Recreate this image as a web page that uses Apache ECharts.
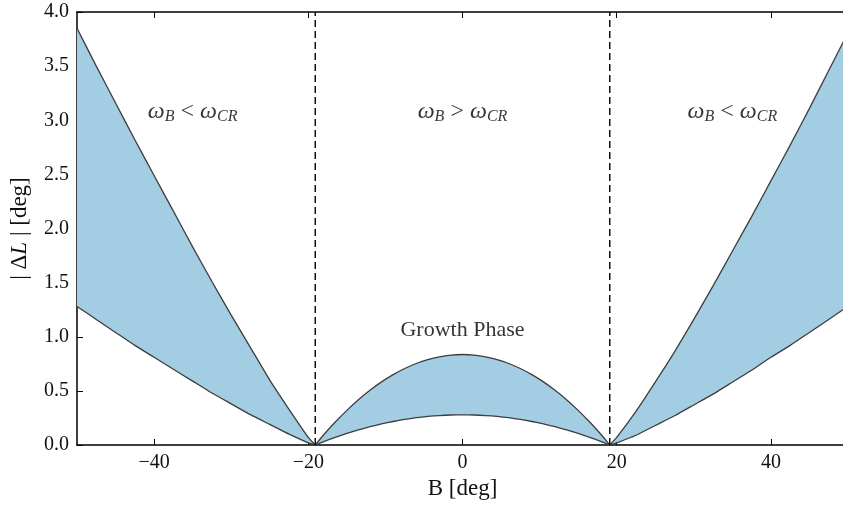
<!DOCTYPE html>
<html>
<head>
<meta charset="utf-8">
<script src="https://cdn.jsdelivr.net/npm/echarts@6/dist/echarts.min.js"></script>
<style>
html, body { margin: 0; padding: 0; background: #fff; }
#chart { width: 843px; height: 506px; }
</style>
</head>
<body>
<div id="chart"></div>
<script>
var serif = "'Liberation Serif', 'DejaVu Serif', serif";

// B < 0 : omega_B < omega_CR
var leftB     = [-50, -47.5, -45, -42.5, -40, -37.5, -35, -32.5, -30, -27.5, -25, -22.5, -20, -19.1];
var leftUpper = [3.85, 3.50, 3.16, 2.82, 2.49, 2.16, 1.83, 1.51, 1.20, 0.90, 0.60, 0.33, 0.07, 0];
var leftLower = [1.28, 1.16, 1.04, 0.92, 0.81, 0.70, 0.59, 0.48, 0.38, 0.28, 0.19, 0.10, 0.02, 0];

// growth phase : omega_B > omega_CR
var midB     = [-19.1, -18, -16.5, -15, -13.5, -12, -10.5, -9, -7.5, -6, -4.5, -3, -1.5, 0,
                1.5, 3, 4.5, 6, 7.5, 9, 10.5, 12, 13.5, 15, 16.5, 18, 19.1];
var midUpper = [0, 0.095, 0.212, 0.320, 0.419, 0.506, 0.583, 0.650, 0.707, 0.753, 0.789, 0.815, 0.831, 0.836,
                0.831, 0.815, 0.789, 0.753, 0.707, 0.650, 0.583, 0.506, 0.419, 0.320, 0.212, 0.095, 0];
var midLower = [0, 0.032, 0.071, 0.107, 0.140, 0.169, 0.195, 0.217, 0.236, 0.252, 0.264, 0.272, 0.277, 0.279,
                0.277, 0.272, 0.264, 0.252, 0.236, 0.217, 0.195, 0.169, 0.140, 0.107, 0.071, 0.032, 0];

// B > 0 : omega_B < omega_CR
var rightB     = [19.1, 20, 22.5, 25, 27.5, 30, 32.5, 35, 37.5, 40, 42.5, 45, 47.5, 50];
var rightUpper = [0, 0.07, 0.31, 0.58, 0.86, 1.16, 1.47, 1.79, 2.11, 2.44, 2.77, 3.11, 3.46, 3.81];
var rightLower = [0, 0.02, 0.09, 0.18, 0.27, 0.37, 0.47, 0.58, 0.69, 0.81, 0.92, 1.04, 1.16, 1.28];

var boundaries = [-19.1, 19.1];
var xTicks = [-40, -20, 0, 20, 40];

var notes = [
    { name: '{w|ω}{s|B}{o| < }{w|ω}{s|CR}', value: [-35, 3.08] },
    { name: '{w|ω}{s|B}{o| > }{w|ω}{s|CR}', value: [0, 3.08] },
    { name: '{w|ω}{s|B}{o| < }{w|ω}{s|CR}', value: [35, 3.08] },
    { name: '{g|Growth Phase}', value: [0, 1.06] }
];

var regions = [
    { b: leftB, lo: leftLower, hi: leftUpper },
    { b: midB, lo: midLower, hi: midUpper },
    { b: rightB, lo: rightLower, hi: rightUpper }
];

var edge = { color: '#3d3d3d', width: 1.3 };
var fill = '#a2cde3';

function pairs(xs, ys) {
    return xs.map(function (x, i) { return [x, ys[i]]; });
}

var series = [];

// shaded band between the two curves of each region
series.push({
    type: 'custom',
    silent: true,
    z: 2,
    data: regions.map(function (r, i) { return i; }),
    renderItem: function (params, api) {
        var r = regions[api.value(0)];
        var pts = [];
        r.b.forEach(function (x, i) { pts.push(api.coord([x, r.hi[i]])); });
        for (var i = r.b.length - 1; i >= 0; i--) pts.push(api.coord([r.b[i], r.lo[i]]));
        return {
            type: 'polygon',
            shape: { points: pts },
            style: { fill: fill, stroke: null }
        };
    }
});

regions.forEach(function (r) {
    [r.lo, r.hi].forEach(function (ys) {
        series.push({
            type: 'line', data: pairs(r.b, ys), symbol: 'none', smooth: 0.15,
            lineStyle: edge, silent: true, z: 3
        });
    });
});

boundaries.forEach(function (b) {
    series.push({
        type: 'line', data: [[b, 0], [b, 4]], symbol: 'none', silent: true, z: 4,
        lineStyle: { color: '#000', width: 1.4, type: [7, 4] }
    });
});

series.push({
    type: 'scatter', data: notes, symbolSize: 0, silent: true, z: 6,
    label: {
        show: true, position: 'inside', color: '#000',
        formatter: function (p) { return p.name; },
        rich: {
            w: { fontFamily: serif, fontStyle: 'italic', fontSize: 24, color: '#000', verticalAlign: 'middle' },
            s: { fontFamily: serif, fontStyle: 'italic', fontSize: 16, color: '#000', verticalAlign: 'middle', padding: [11, 0, 0, 0] },
            o: { fontFamily: serif, fontSize: 24, color: '#000', verticalAlign: 'middle' },
            g: { fontFamily: serif, fontSize: 22, color: '#000' }
        }
    }
});

function minus(v) { return v < 0 ? '\u2212' + (-v) : String(v); }

var option = {
    animation: false,
    backgroundColor: '#fff',
    grid: { left: 77, top: 12, width: 771, bottom: 61, outerBoundsMode: 'none', containLabel: false },
    xAxis: [
        {
            type: 'value', min: -50, max: 50, position: 'bottom',
            name: 'B [deg]', nameLocation: 'middle', nameGap: 32,
            nameTextStyle: { fontFamily: serif, fontSize: 23, color: '#111' },
            axisLine: { onZero: false, lineStyle: { color: '#000', width: 1.5 } },
            axisTick: { inside: true, length: 6, customValues: xTicks, lineStyle: { color: '#000', width: 1 } },
            axisLabel: { customValues: xTicks, formatter: minus, margin: 8, fontFamily: serif, fontSize: 20, color: '#111' },
            splitLine: { show: false }
        },
        {
            type: 'value', min: -50, max: 50, position: 'top',
            axisLine: { onZero: false, lineStyle: { color: '#000', width: 1.5 } },
            axisTick: { inside: true, length: 6, customValues: xTicks, lineStyle: { color: '#000', width: 1 } },
            axisLabel: { show: false },
            splitLine: { show: false }
        }
    ],
    yAxis: {
        type: 'value', min: 0, max: 4, interval: 0.5,
        name: '{n|| Δ}{i|L}{n| | [deg]}', nameLocation: 'middle', nameGap: 46, nameRotate: 90,
        nameTextStyle: {
            color: '#111',
            rich: {
                n: { fontFamily: serif, fontSize: 23, color: '#111' },
                i: { fontFamily: serif, fontSize: 23, fontStyle: 'italic', color: '#111' }
            }
        },
        axisLine: { show: true, onZero: false, lineStyle: { color: '#000', width: 1.5 } },
        axisTick: { show: true, inside: true, length: 6, lineStyle: { color: '#000', width: 1 } },
        axisLabel: {
            formatter: function (v) { return v.toFixed(1); },
            margin: 8, fontFamily: serif, fontSize: 20, color: '#111'
        },
        splitLine: { show: false }
    },
    series: series
};

var chart = echarts.init(document.getElementById('chart'));
chart.setOption(option);
</script>
</body>
</html>
